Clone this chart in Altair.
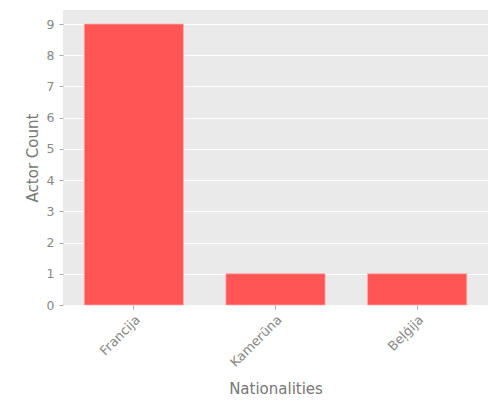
import altair as alt
import pandas as pd

nationalities = ["Francija", "Kamerūna", "Beļģija"]
counts = [9, 1, 1]

df = pd.DataFrame({"Nationality": nationalities, "Count": counts})

grey = "#888888"

chart = alt.Chart(df).mark_bar(color="#FF5555", stroke="#FFAAAA", strokeWidth=0.8).encode(
    x=alt.X("Nationality:N", sort=nationalities, title="Nationalities",
            scale=alt.Scale(paddingInner=0.3, paddingOuter=0.15),
            axis=alt.Axis(labelAngle=-45, labelAlign="right", labelBaseline="top",
                          labelColor=grey, labelFontSize=13, labelFont="DejaVu Sans",
                          labelPadding=4,
                          tickColor="#AAAAAA", tickSize=4, domain=False,
                          titleColor="#777777", titleFontSize=15, titleFont="DejaVu Sans",
                          titleFontWeight="normal", titlePadding=12, grid=False)),
    y=alt.Y("Count:Q", title="Actor Count",
            scale=alt.Scale(domain=[0, 9.45], nice=False),
            axis=alt.Axis(values=list(range(10)), labelColor=grey, labelFontSize=12.5,
                          labelFont="DejaVu Sans", tickColor="#AAAAAA", tickSize=4,
                          labelPadding=5,
                          domain=False, gridColor="#FFFFFF", gridWidth=1,
                          titleColor="#777777", titleFontSize=15, titleFont="DejaVu Sans",
                          titleFontWeight="normal", titlePadding=6)),
).properties(
    width=425, height=295,
    autosize=alt.AutoSizeParams(type="none"),
    padding={"left": 55, "top": 2, "right": 4, "bottom": 92},
).configure_view(fill="#EAEAEA", stroke=None)

chart.save("out.html", embed_options={"renderer": "svg", "actions": False})
